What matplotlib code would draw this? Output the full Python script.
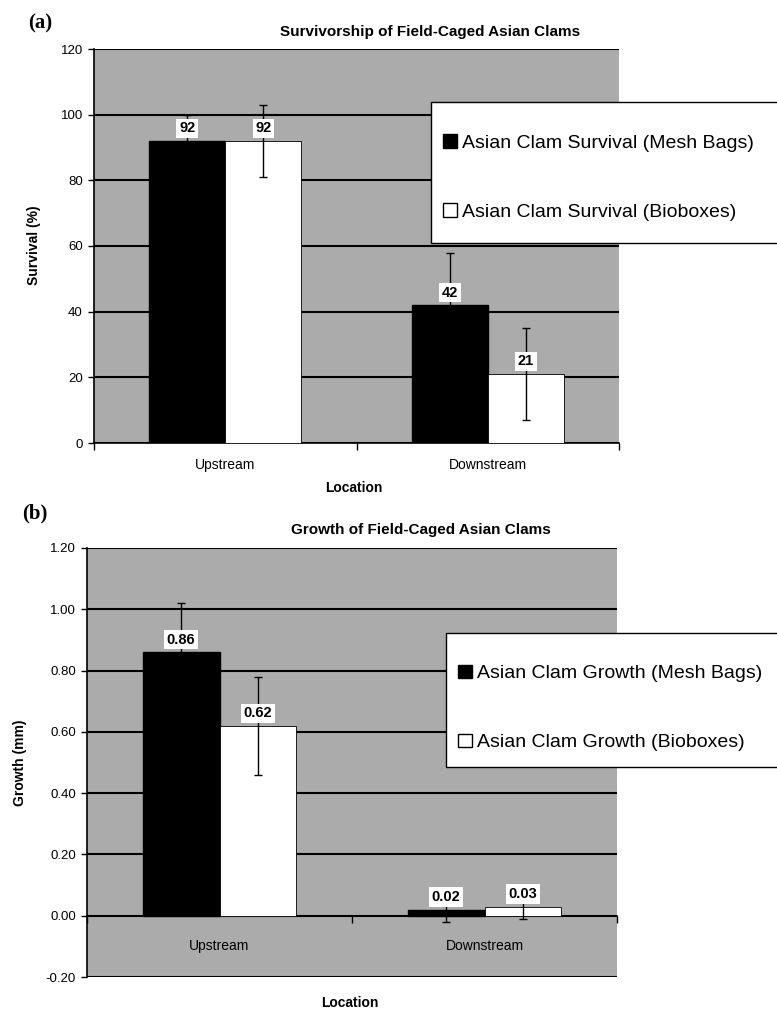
import numpy as np
import matplotlib
matplotlib.use("Agg")
import matplotlib.pyplot as plt
from matplotlib.patches import Patch, Rectangle

plt.rcParams['font.family'] = ['Liberation Sans', 'DejaVu Sans']
plt.rcParams['hatch.color'] = '#555555'
plt.rcParams['hatch.linewidth'] = 0.8

locations = ['Upstream', 'Downstream']

survival_mesh = [92, 42]
survival_mesh_err = [8, 16]
survival_box = [92, 21]
survival_box_err = [11, 14]

growth_mesh = [0.86, 0.02]
growth_mesh_err = [0.16, 0.04]
growth_box = [0.62, 0.03]
growth_box_err = [0.16, 0.04]

W, H = 777, 1015
fig = plt.figure(figsize=(W / 100, H / 100), dpi=100)


def fx(px):
    return px / W


def fy(py):
    return 1 - py / H


def draw_panel(ax, mesh, mesh_err, box, box_err, ylim, yticks, fmt,
               leg_labels, leg_box, tick_pad):
    ax.set_facecolor('#ababab')
    ax.patch.set_hatch('....')
    x = np.arange(len(locations))
    bw = 0.29
    ax.bar(x - bw / 2, mesh, bw, color='black', edgecolor='black', zorder=3)
    ax.bar(x + bw / 2, box, bw, color='white', edgecolor='black', linewidth=0.6, zorder=3)
    ax.errorbar(x - bw / 2, mesh, yerr=mesh_err, fmt='none', ecolor='black',
                elinewidth=1, capsize=3, zorder=4)
    ax.errorbar(x + bw / 2, box, yerr=box_err, fmt='none', ecolor='black',
                elinewidth=1, capsize=3, zorder=4)
    for xs, vals in [(x - bw / 2, mesh), (x + bw / 2, box)]:
        for xi, v in zip(xs, vals):
            ax.annotate(fmt.format(v), (xi, v), xytext=(0, 4),
                        textcoords='offset points', ha='center', va='bottom',
                        fontsize=10.5, fontweight='bold', zorder=6,
                        bbox=dict(boxstyle='square,pad=0.18', fc='white', ec='none'))

    ax.set_xlim(-0.5, 1.5)
    ax.set_ylim(*ylim)
    ax.set_yticks(yticks)
    ax.set_yticklabels([fmt.format(t) for t in yticks], fontsize=9.5)
    ax.yaxis.grid(True, color='black', linewidth=1.5, zorder=1)
    ax.set_axisbelow(True)
    ax.tick_params(axis='y', length=4, width=1, pad=4)

    ax.spines['top'].set_visible(False)
    ax.spines['right'].set_visible(False)
    ax.spines['bottom'].set_position(('data', 0))
    ax.spines['bottom'].set_linewidth(1.2)
    ax.spines['left'].set_linewidth(1.2)
    ax.set_xticks(x)
    ax.set_xticklabels(locations, fontsize=10)
    ax.set_xticks([-0.5, 0.5, 1.5], minor=True)
    ax.tick_params(axis='x', which='major', length=0, pad=tick_pad)
    ax.tick_params(axis='x', which='minor', length=5, width=1)

    # legend box sticks out past the right edge, as in the scan
    left, top, bottom, shift = leg_box
    fig.add_artist(Rectangle((fx(left), fy(bottom)), fx(800 - left), (bottom - top) / H,
                             transform=fig.transFigure, facecolor='white',
                             edgecolor='black', linewidth=1.0, zorder=4))
    handles = [Patch(facecolor='black', edgecolor='black'),
               Patch(facecolor='white', edgecolor='black')]
    leg = fig.legend(handles, leg_labels, loc='center left',
                     bbox_to_anchor=(fx(left + 12), fy((top + bottom) / 2 + shift)),
                     bbox_transform=fig.transFigure, borderaxespad=0, borderpad=0,
                     fontsize=14, frameon=False, labelspacing=2.65,
                     handlelength=0.7, handleheight=0.7, handletextpad=0.3)
    leg.set_zorder(5)


ax1 = fig.add_axes([fx(94), fy(443), fx(619 - 94), (443 - 49) / H])
draw_panel(ax1, survival_mesh, survival_mesh_err, survival_box, survival_box_err,
           (0, 120), [0, 20, 40, 60, 80, 100, 120], '{:.0f}',
           ['Asian Clam Survival (Mesh Bags)', 'Asian Clam Survival (Bioboxes)'],
           (431, 102, 243, 5), 11)

ax2 = fig.add_axes([fx(87), fy(977), fx(617 - 87), (977 - 548) / H])
draw_panel(ax2, growth_mesh, growth_mesh_err, growth_box, growth_box_err,
           (-0.2, 1.2), [-0.2, 0, 0.2, 0.4, 0.6, 0.8, 1.0, 1.2], '{:.2f}',
           ['Asian Clam Growth (Mesh Bags)', 'Asian Clam Growth (Bioboxes)'],
           (446, 633, 767, 8), 17)

# titles, axis labels, panel letters
fig.text(fx(430), fy(32), 'Survivorship of Field-Caged Asian Clams', ha='center', va='center',
         fontsize=11, fontweight='bold')
fig.text(fx(421), fy(530), 'Growth of Field-Caged Asian Clams', ha='center', va='center',
         fontsize=11, fontweight='bold')
fig.text(fx(34), fy(245), 'Survival (%)', rotation=90, ha='center', va='center',
         fontsize=10, fontweight='bold')
fig.text(fx(20), fy(763), 'Growth (mm)', rotation=90, ha='center', va='center',
         fontsize=10, fontweight='bold')
fig.text(fx(354), fy(488), 'Location', ha='center', va='center', fontsize=10, fontweight='bold')
fig.text(fx(350), fy(1003), 'Location', ha='center', va='center', fontsize=10, fontweight='bold')
fig.text(fx(40), fy(23), '(a)', ha='center', va='center', fontsize=15, fontweight='bold',
         family=['Liberation Serif', 'DejaVu Serif'])
fig.text(fx(35), fy(513), '(b)', ha='center', va='center', fontsize=15, fontweight='bold',
         family=['Liberation Serif', 'DejaVu Serif'])

fig.savefig('out.png', dpi=100)
